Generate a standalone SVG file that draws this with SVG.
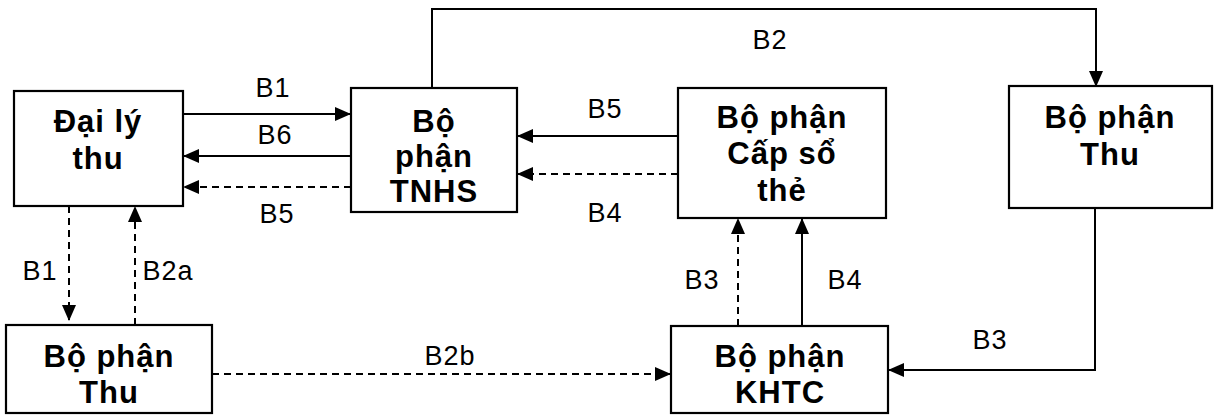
<svg xmlns="http://www.w3.org/2000/svg" width="1215" height="416" viewBox="0 0 1215 416">
<style>
.box{fill:#fff;stroke:#000;stroke-width:2.2}
.t{font-family:"Liberation Sans",Arial,sans-serif;font-weight:bold;font-size:31px;letter-spacing:1px;text-anchor:middle;fill:#000}
.l{font-family:"Liberation Sans",Arial,sans-serif;font-size:27px;letter-spacing:1px;text-anchor:middle;fill:#000}
.c{fill:none;stroke:#000;stroke-width:2}
.d{stroke-dasharray:7 5}
</style>
<defs>
<marker id="ah" markerUnits="userSpaceOnUse" markerWidth="16" markerHeight="14" refX="15" refY="7" orient="auto">
<path d="M0,0 L16,7 L0,14 Z" fill="#000"/>
</marker>
</defs>
<g id="connectors">
<line class="c" x1="183" y1="114" x2="350" y2="114" marker-end="url(#ah)"/>
<line class="c" x1="351" y1="156" x2="184" y2="156" marker-end="url(#ah)"/>
<line class="c d" x1="351" y1="187" x2="184" y2="187" marker-end="url(#ah)"/>
<polyline class="c" points="432,88 432,9 1096,9 1096,86" marker-end="url(#ah)"/>
<line class="c" x1="678" y1="136" x2="518" y2="136" marker-end="url(#ah)"/>
<line class="c d" x1="678" y1="174" x2="518" y2="174" marker-end="url(#ah)"/>
<line class="c d" x1="69" y1="206" x2="69" y2="320" marker-end="url(#ah)"/>
<line class="c d" x1="135" y1="325" x2="135" y2="207" marker-end="url(#ah)"/>
<line class="c d" x1="212" y1="374" x2="670" y2="374" marker-end="url(#ah)"/>
<line class="c d" x1="738" y1="326" x2="738" y2="219" marker-end="url(#ah)"/>
<line class="c" x1="802" y1="326" x2="802" y2="219" marker-end="url(#ah)"/>
<polyline class="c" points="1095,208 1095,370 889,370" marker-end="url(#ah)"/>
<text class="l" x="273" y="97">B1</text>
<text class="l" x="275" y="144">B6</text>
<text class="l" x="277" y="223">B5</text>
<text class="l" x="770" y="49">B2</text>
<text class="l" x="605" y="118">B5</text>
<text class="l" x="605" y="222">B4</text>
<text class="l" x="40" y="280">B1</text>
<text class="l" x="168" y="280">B2a</text>
<text class="l" x="450" y="365">B2b</text>
<text class="l" x="702" y="289">B3</text>
<text class="l" x="845" y="289">B4</text>
<text class="l" x="990" y="349">B3</text>
</g>
<g id="daily">
<rect class="box" x="14" y="91" width="169" height="115"/>
<text class="t" x="98" y="132">Đại lý</text>
<text class="t" x="98" y="169">thu</text>
</g>
<g id="tnhs">
<rect class="box" x="351" y="88" width="166" height="124"/>
<text class="t" x="434" y="132">Bộ</text>
<text class="t" x="434" y="167">phận</text>
<text class="t" x="434" y="202">TNHS</text>
</g>
<g id="capso">
<rect class="box" x="678" y="88" width="208" height="130"/>
<text class="t" x="782" y="128">Bộ phận</text>
<text class="t" x="782" y="164">Cấp sổ</text>
<text class="t" x="782" y="201">thẻ</text>
</g>
<g id="thu-right">
<rect class="box" x="1009" y="86" width="203" height="122"/>
<text class="t" x="1110" y="128">Bộ phận</text>
<text class="t" x="1110" y="165">Thu</text>
</g>
<g id="thu-left">
<rect class="box" x="6" y="325" width="206" height="88"/>
<text class="t" x="109" y="367">Bộ phận</text>
<text class="t" x="109" y="403">Thu</text>
</g>
<g id="khtc">
<rect class="box" x="671" y="326" width="217" height="87"/>
<text class="t" x="780" y="367">Bộ phận</text>
<text class="t" x="780" y="403">KHTC</text>
</g>
</svg>
